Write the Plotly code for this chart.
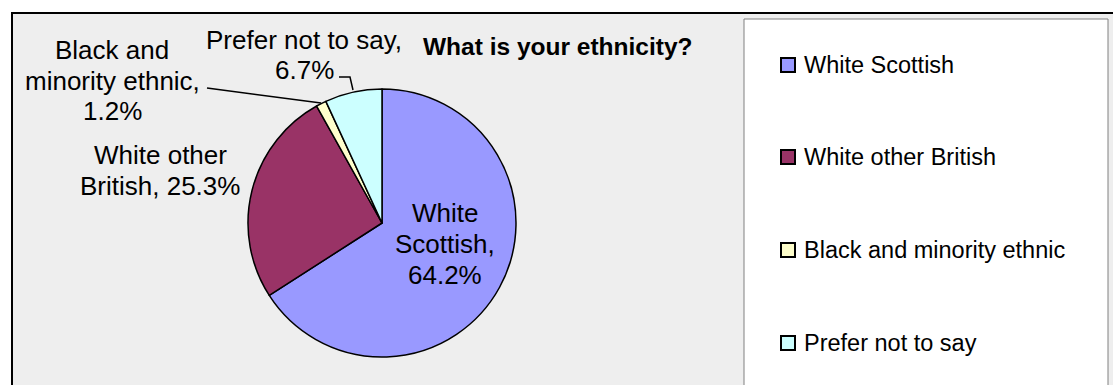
import plotly.graph_objects as go

# Survey answers: "What is your ethnicity?"
categories = ["White Scottish", "White other British",
              "Black and minority ethnic", "Prefer not to say"]
percent = [64.2, 25.3, 1.2, 6.7]
slice_colors = ["#9999FF", "#993366", "#FFFFCC", "#CCFFFF"]
# wrapped slice-label wording; {} receives the percentage
label_templates = ["White<br>Scottish,<br>{}%",
                   "White other<br>British, {}%",
                   "Black and<br>minority ethnic,<br>{}%",
                   "Prefer not to say,<br>{}%"]
chart_title = "What is your ethnicity?"

W, H = 1113, 385
FONT = "Arial, 'Liberation Sans', sans-serif"


def px(x):
    return x / W


def py(y):
    return 1 - y / H


fig = go.Figure()

# pie: centre (382, 223), radius 134 px
cx, cy, r = 382, 223, 134
fig.add_trace(go.Pie(
    labels=categories,
    values=percent,
    sort=False,
    direction="clockwise",
    rotation=0,
    marker=dict(colors=slice_colors, line=dict(color="black", width=1.5)),
    textinfo="none",
    hoverinfo="label+value",
    showlegend=False,
    domain=dict(x=[px(cx - r), px(cx + r)], y=[py(cy + r), py(cy - r)]),
))

shapes = []
# chart area frame
shapes.append(dict(type="rect", xref="paper", yref="paper",
                   x0=px(12), x1=px(1140), y0=py(13), y1=py(420),
                   fillcolor="#EEEEEE", line=dict(color="black", width=2),
                   layer="below"))
# legend box
shapes.append(dict(type="rect", xref="paper", yref="paper",
                   x0=px(744), x1=px(1108), y0=py(19), y1=py(420),
                   fillcolor="white", line=dict(color="#808080", width=1),
                   layer="below"))
# leader lines for the two thin slices
shapes.append(dict(type="path", xref="paper", yref="paper",
                   path=f"M {px(207)},{py(88)} L {px(321)},{py(103)}",
                   line=dict(color="black", width=1.5)))
shapes.append(dict(type="path", xref="paper", yref="paper",
                   path=f"M {px(339)},{py(77)} L {px(350)},{py(77)} L {px(353)},{py(90)}",
                   line=dict(color="black", width=1.5)))

annotations = []
# slice labels, one annotation per text line: (x centre, y of each line)
label_pos = [(445, [213, 244, 275]),
             (160, [155, 186]),
             (112, [50, 81, 111]),
             (304, [40, 70])]
for tmpl, val, (lx, line_ys) in zip(label_templates, percent, label_pos):
    for line, ly in zip(tmpl.format(val).split("<br>"), line_ys):
        annotations.append(dict(
            x=px(lx), y=py(ly), xref="paper", yref="paper",
            text=line, showarrow=False,
            xanchor="center", yanchor="middle", align="center",
            font=dict(family=FONT, size=26, color="black")))

# title
annotations.append(dict(
    x=px(558), y=py(46), xref="paper", yref="paper",
    text=f"<b>{chart_title}</b>", showarrow=False,
    xanchor="center", yanchor="middle",
    font=dict(family=FONT, size=24.5, color="black")))

# legend entries
legend_y = [65, 157, 250, 343]
for name, col, ly in zip(categories, slice_colors, legend_y):
    shapes.append(dict(type="rect", xref="paper", yref="paper",
                       x0=px(781), x1=px(795), y0=py(ly + 7), y1=py(ly - 7),
                       fillcolor=col, line=dict(color="black", width=2)))
    annotations.append(dict(
        x=px(802), y=py(ly), xref="paper", yref="paper",
        text=name, showarrow=False, xanchor="left", yanchor="middle",
        font=dict(family=FONT, size=23.5, color="black")))

fig.update_layout(
    width=W, height=H,
    margin=dict(l=0, r=0, t=0, b=0),
    paper_bgcolor="white",
    plot_bgcolor="white",
    shapes=shapes,
    annotations=annotations,
    showlegend=False,
)

fig.write_html("out.html")
